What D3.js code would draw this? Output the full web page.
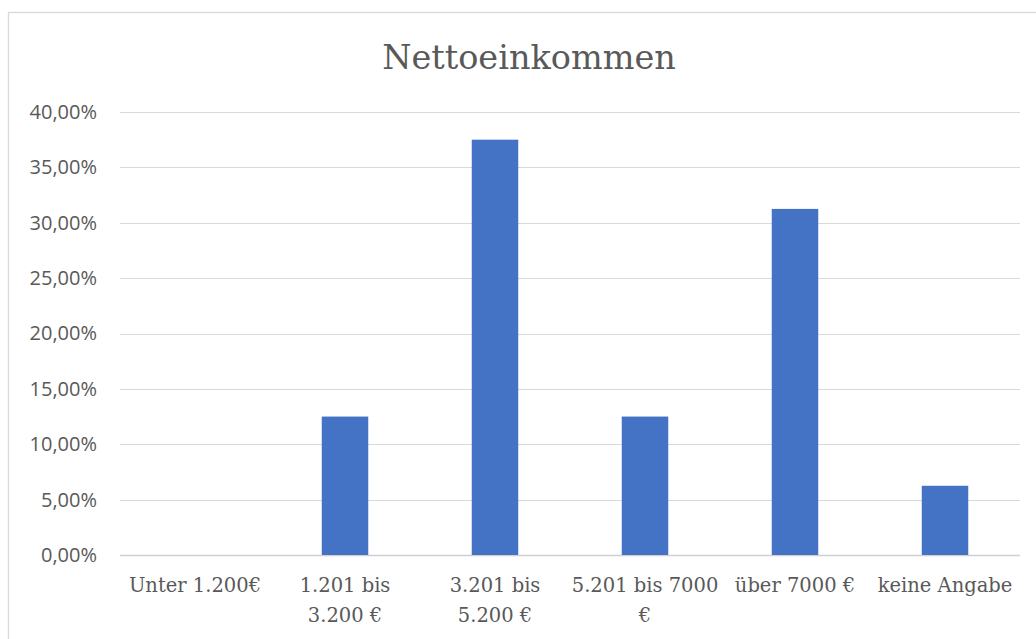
<!DOCTYPE html>
<html>
<head>
<meta charset="utf-8">
<script src="https://cdn.jsdelivr.net/npm/d3@7"></script>
<style>
  body { margin: 0; background: #fff; }
</style>
</head>
<body>
<script>
// Chart data
var categories = ['Unter 1.200€', '1.201 bis\n3.200 €', '3.201 bis\n5.200 €', '5.201 bis 7000\n€', 'über 7000 €', 'keine Angabe'];
var values = [0, 0.125, 0.375, 0.125, 0.3125, 0.0625];
var yTicks = [0, 0.05, 0.10, 0.15, 0.20, 0.25, 0.30, 0.35, 0.40];

var svgWidth = 1036;
var svgHeight = 639;

var margin = { top: 112, right: 16, bottom: 84, left: 120 };
var chartWidth = svgWidth - margin.left - margin.right;
var chartHeight = svgHeight - margin.top - margin.bottom;

var svg = d3.select('body').append('svg')
  .attr('width', svgWidth)
  .attr('height', svgHeight);

// outer border
svg.append('rect')
  .attr('x', 8.5)
  .attr('y', 12.5)
  .attr('width', svgWidth)
  .attr('height', svgHeight)
  .attr('fill', 'none')
  .attr('stroke', '#d9d9d9')
  .attr('stroke-width', 1.3);

var chart = svg.append('g')
  .attr('transform', `translate(${margin.left}, ${margin.top})`);

var xScale = d3.scaleBand()
  .domain(categories)
  .range([0, chartWidth])
  .paddingInner(0.69)
  .paddingOuter(0.345);

var bandScale = d3.scaleBand()
  .domain(categories)
  .range([0, chartWidth]);

var yScale = d3.scaleLinear()
  .domain([0, 0.40])
  .range([chartHeight, 0]);

// Title
svg.append('text')
  .attr('x', 529)
  .attr('y', 69)
  .attr('text-anchor', 'middle')
  .attr('font-family', '"DejaVu Serif", "Liberation Serif", serif')
  .attr('font-size', 33.5)
  .attr('fill', '#595959')
  .text('Nettoeinkommen');

// Gridlines
chart.append('g')
  .selectAll('line')
  .data(yTicks)
  .enter()
  .append('line')
  .attr('x1', 0)
  .attr('x2', chartWidth)
  .attr('y1', d => Math.round(yScale(d)) + 0.5)
  .attr('y2', d => Math.round(yScale(d)) + 0.5)
  .attr('stroke', d => d === 0 ? '#d0d0d0' : '#d9d9d9')
  .attr('stroke-width', d => d === 0 ? 1.5 : 1.2);

// Y axis labels
var fmt = d => d3.format('.2f')(d * 100).replace('.', ',') + '%';
var leftAxis = d3.axisLeft(yScale)
  .tickValues(yTicks)
  .tickFormat(fmt)
  .tickSize(0)
  .tickPadding(23);

var yAxisG = chart.append('g').call(leftAxis);
yAxisG.select('.domain').remove();
yAxisG.selectAll('text')
  .attr('font-family', '"Open Sans", sans-serif')
  .attr('font-size', 20)
  .attr('fill', '#595959');

// Bars
chart.selectAll('rect.bar')
  .data(values)
  .enter()
  .append('rect')
  .attr('class', 'bar')
  .attr('x', (d, i) => xScale(categories[i]))
  .attr('y', d => yScale(d))
  .attr('width', xScale.bandwidth())
  .attr('height', d => chartHeight - yScale(d))
  .attr('fill', '#4472c4');

// X labels
var xLabels = chart.append('g')
  .selectAll('text')
  .data(categories)
  .enter()
  .append('text')
  .attr('text-anchor', 'middle')
  .attr('font-family', '"DejaVu Serif", "Liberation Serif", serif')
  .attr('font-size', 19.5)
  .attr('fill', '#595959')
  .attr('transform', d => `translate(${bandScale(d) + bandScale.bandwidth() / 2}, ${chartHeight + 37})`);

xLabels.selectAll('tspan')
  .data(d => d.split('\n'))
  .enter()
  .append('tspan')
  .attr('x', 0)
  .attr('dy', (d, i) => i === 0 ? 0 : 30)
  .text(d => d);
</script>
</body>
</html>
